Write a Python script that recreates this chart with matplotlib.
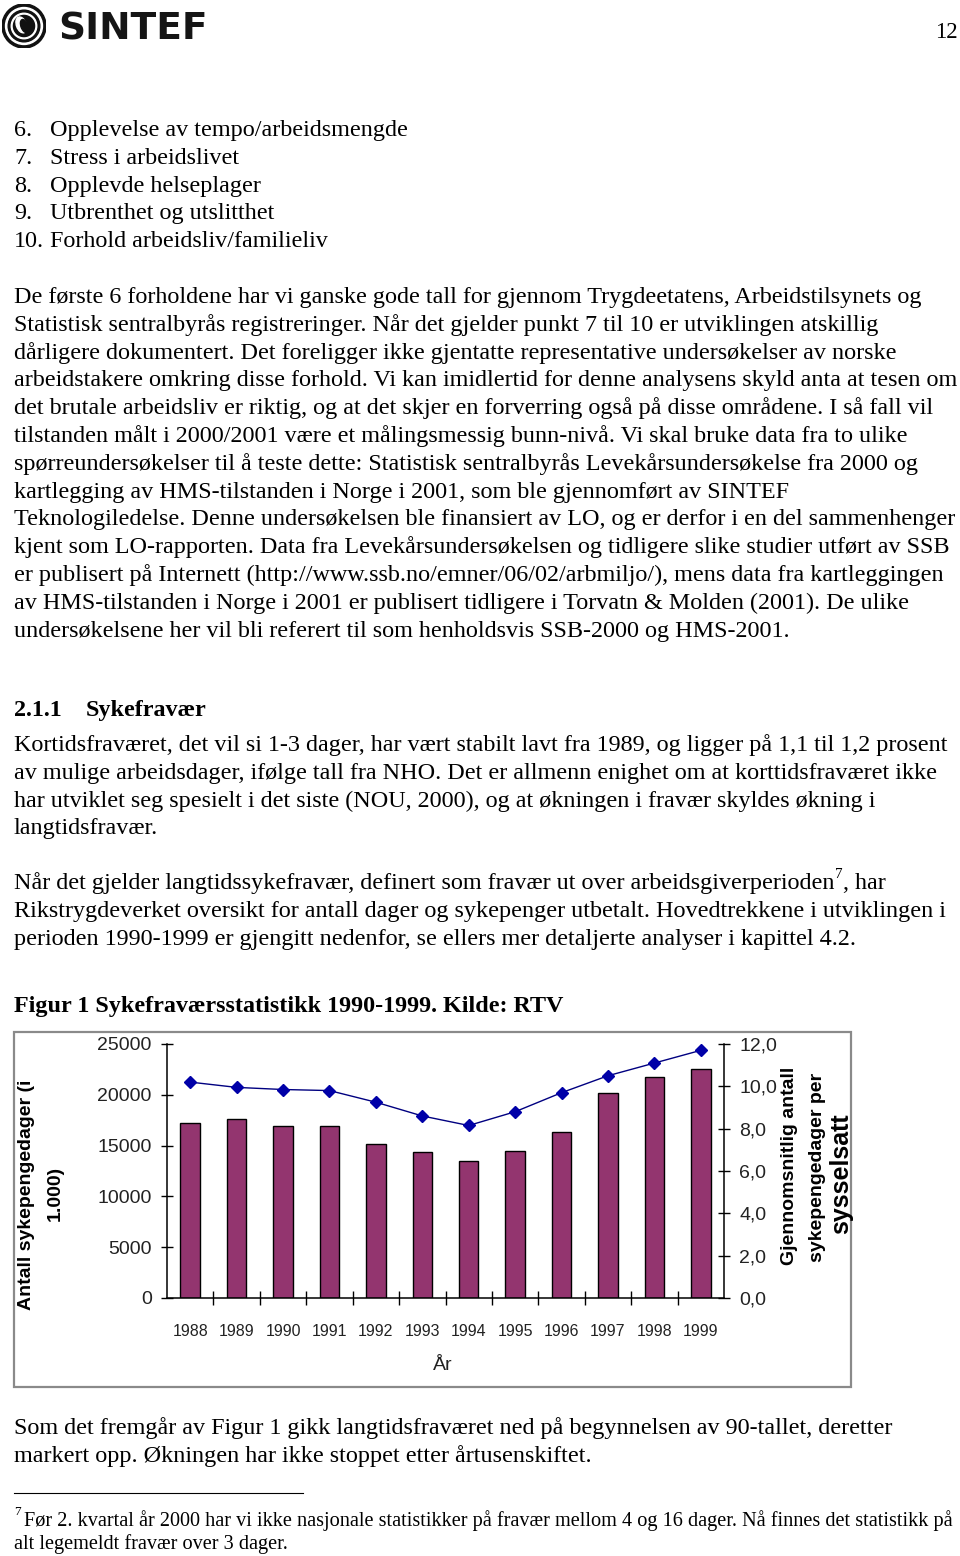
import numpy as np
import matplotlib
matplotlib.use("Agg")
import matplotlib.pyplot as plt
from matplotlib.patches import Rectangle, Circle, Ellipse
from matplotlib.lines import Line2D

# chart data
years = [1988, 1989, 1990, 1991, 1992, 1993, 1994, 1995, 1996, 1997, 1998, 1999]
sick_days = [17200, 17650, 16950, 16950, 15150, 14350, 13500, 14450, 16300, 20200, 21800, 22500]
avg_days = [10.2, 9.95, 9.85, 9.8, 9.25, 8.6, 8.15, 8.8, 9.7, 10.5, 11.1, 11.7]
left_ticks = [0, 5000, 10000, 15000, 20000, 25000]
right_ticks = [0, 2, 4, 6, 8, 10, 12]

list_items = [("6.", "Opplevelse av tempo/arbeidsmengde"),
              ("7.", "Stress i arbeidslivet"),
              ("8.", "Opplevde helseplager"),
              ("9.", "Utbrenthet og utslitthet"),
              ("10.", "Forhold arbeidsliv/familieliv")]

para1 = [
    "De første 6 forholdene har vi ganske gode tall for gjennom Trygdeetatens, Arbeidstilsynets og",
    "Statistisk sentralbyrås registreringer. Når det gjelder punkt 7 til 10 er utviklingen atskillig",
    "dårligere dokumentert. Det foreligger ikke gjentatte representative undersøkelser av norske",
    "arbeidstakere omkring disse forhold. Vi kan imidlertid for denne analysens skyld anta at tesen om",
    "det brutale arbeidsliv er riktig, og at det skjer en forverring også på disse områdene. I så fall vil",
    "tilstanden målt i 2000/2001 være et målingsmessig bunn-nivå. Vi skal bruke data fra to ulike",
    "spørreundersøkelser til å teste dette: Statistisk sentralbyrås Levekårsundersøkelse fra 2000 og",
    "kartlegging av HMS-tilstanden i Norge i 2001, som ble gjennomført av SINTEF",
    "Teknologiledelse. Denne undersøkelsen ble finansiert av LO, og er derfor i en del sammenhenger",
    "kjent som LO-rapporten. Data fra Levekårsundersøkelsen og tidligere slike studier utført av SSB",
    "er publisert på Internett (http://www.ssb.no/emner/06/02/arbmiljo/), mens data fra kartleggingen",
    "av HMS-tilstanden i Norge i 2001 er publisert tidligere i Torvatn & Molden (2001). De ulike",
    "undersøkelsene her vil bli referert til som henholdsvis SSB-2000 og HMS-2001.",
]
para2 = [
    "Kortidsfraværet, det vil si 1-3 dager, har vært stabilt lavt fra 1989, og ligger på 1,1 til 1,2 prosent",
    "av mulige arbeidsdager, ifølge tall fra NHO. Det er allmenn enighet om at korttidsfraværet ikke",
    "har utviklet seg spesielt i det siste (NOU, 2000), og at økningen i fravær skyldes økning i",
    "langtidsfravær.",
]
para3 = [
    "Rikstrygdeverket oversikt for antall dager og sykepenger utbetalt. Hovedtrekkene i utviklingen i",
    "perioden 1990-1999 er gjengitt nedenfor, se ellers mer detaljerte analyser i kapittel 4.2.",
]
para4 = [
    "Som det fremgår av Figur 1 gikk langtidsfraværet ned på begynnelsen av 90-tallet, deretter",
    "markert opp. Økningen har ikke stoppet etter årtusenskiftet.",
]

W, H = 960, 1556
SERIF = "Liberation Serif"
SANS = "Liberation Sans"
BODY = 17.4
MAX_RIGHT = 956


def fx(x):
    return x / W


def fy(y):
    return 1 - y / H


fig = plt.figure(figsize=(W / 100, H / 100), dpi=100)
renderer = fig.canvas.get_renderer()


def right_edge(t):
    return t.get_window_extent(renderer).x1


def line(x, y, s, size=BODY, **kw):
    kw.setdefault("family", SERIF)
    t = fig.text(fx(x), fy(y), s, fontsize=size, va="baseline", ha="left", **kw)
    r = right_edge(t)
    if r > MAX_RIGHT:
        t.set_fontsize(size * (MAX_RIGHT - x) / (r - x))
    return t


# header
lax = fig.add_axes([fx(2), fy(48), 44 / W, 44 / H])
lax.set_xlim(-1, 1)
lax.set_ylim(-1, 1)
lax.set_aspect("equal")
lax.axis("off")
for r, c in [(1.0, "#111111"), (0.84, "white"), (0.72, "#111111"), (0.58, "white"), (0.48, "#111111")]:
    lax.add_patch(Circle((0, 0), r, color=c))
lax.add_patch(Ellipse((-0.12, 0.05), 0.45, 0.75, angle=20, color="white"))
lax.add_patch(Ellipse((0.02, 0.0), 0.32, 0.62, angle=20, color="#111111"))
fig.text(fx(58), fy(40), "SINTEF", family="DejaVu Sans", fontweight="heavy",
         fontsize=27, color="#151515", va="baseline")
fig.text(fx(958), fy(38), "12", family=SERIF, fontsize=16.5, ha="right", va="baseline")

# numbered list
for i, (num, txt) in enumerate(list_items):
    y = 136 + i * 27.8
    line(14, y, num)
    line(50, y, txt)

for i, s in enumerate(para1):
    line(14, 303 + i * 27.8, s)

line(14, 716, "2.1.1", fontweight="bold")
line(86, 716, "Sykefravær", fontweight="bold")

for i, s in enumerate(para2):
    line(14, 751 + i * 27.8, s)

t = line(14, 889, "Når det gjelder langtidssykefravær, definert som fravær ut over arbeidsgiverperioden")
x1 = right_edge(t)
t7 = fig.text(x1 / W + 1 / W, fy(878), "7", family=SERIF, fontsize=11, va="baseline")
x2 = right_edge(t7)
fig.text(x2 / W, fy(889), ", har", family=SERIF, fontsize=BODY, va="baseline")
for i, s in enumerate(para3):
    line(14, 917 + i * 27.8, s)

line(14, 1012, "Figur 1 Sykefraværsstatistikk 1990-1999. Kilde: RTV", fontweight="bold")

for i, s in enumerate(para4):
    line(14, 1434 + i * 28, s, size=17.4)

fig.add_artist(Line2D([fx(14), fx(303)], [fy(1493), fy(1493)], color="black", lw=0.8))
line(14, 1515, "7", size=9.5)
line(24, 1526, "Før 2. kvartal år 2000 har vi ikke nasjonale statistikker på fravær mellom 4 og 16 dager. "
     "Nå finnes det statistikk på", size=14.6)
line(14, 1549, "alt legemeldt fravær over 3 dager.", size=14.6)

# chart frame
fig.add_artist(Rectangle((fx(14), fy(1387)), fx(851) - fx(14), fy(1032) - fy(1387),
                         transform=fig.transFigure, fill=False, ec="#8a8a8a", lw=1.6))

ax = fig.add_axes([fx(167), fy(1298), (724 - 167) / W, (1298 - 1044) / H])
x = np.arange(len(years))
ax.bar(x, sick_days, width=0.42, color="#93356f", edgecolor="black", lw=1, zorder=2)
ax.set_xlim(-0.5, len(years) - 0.5)
ax.set_ylim(0, 25000)
ax.set_yticks(left_ticks)
ax.set_yticklabels([str(v) for v in left_ticks], family=SANS, fontsize=14, color="#222222")
ax.set_xticks(np.arange(0.5, len(years) - 0.5), labels=[""] * (len(years) - 1))
ax.set_xticks(x, labels=[str(y) for y in years], minor=True)
for lab in ax.get_xticklabels(minor=True):
    lab.set_family(SANS)
    lab.set_fontsize(11.5)
    lab.set_color("#222222")
ax.tick_params(axis="x", which="major", direction="inout", length=9.5, width=1)
ax.tick_params(axis="x", which="minor", length=0, pad=18.5)
ax.tick_params(axis="y", direction="inout", length=9, width=1, pad=6.5)
ax.spines["top"].set_visible(False)
ax.spines["right"].set_visible(False)
for s in ("left", "bottom"):
    ax.spines[s].set_linewidth(1.1)

ax2 = ax.twinx()
ax2.plot(x, avg_days, color="#000080", lw=1, marker="D", ms=6.5,
         mfc="#0000a8", mec="#0000a8", zorder=3)
ax2.set_ylim(0, 12)
ax2.set_yticks(right_ticks)
ax2.set_yticklabels([f"{v},0" for v in right_ticks], family=SANS, fontsize=14, color="#222222")
ax2.tick_params(axis="y", direction="inout", length=9, width=1, pad=6.5)
ax2.spines["top"].set_visible(False)
ax2.spines["left"].set_visible(False)
ax2.spines["bottom"].set_visible(False)
ax2.spines["right"].set_linewidth(1.1)

fig.text(fx(443), fy(1366), "År", family=SANS, fontsize=14, ha="center", va="center", color="#222222")

fig.text(fx(27), fy(1195), "Antall sykepengedager (i", family=SANS, fontweight="bold",
         fontsize=14, rotation=90, ha="center", va="center")
fig.text(fx(55), fy(1193), "1.000)", family=SANS, fontweight="bold",
         fontsize=14, rotation=90, ha="center", va="center")
fig.text(fx(790), fy(1166), "Gjennomsnitlig antall", family=SANS, fontweight="bold",
         fontsize=14, rotation=90, ha="center", va="center")
fig.text(fx(817), fy(1167), "sykepengedager per", family=SANS, fontweight="bold",
         fontsize=14, rotation=90, ha="center", va="center")
fig.text(fx(841), fy(1174), "sysselsatt", family=SANS, fontweight="bold",
         fontsize=18, rotation=90, ha="center", va="center")

fig.savefig("out.png", dpi=100)
